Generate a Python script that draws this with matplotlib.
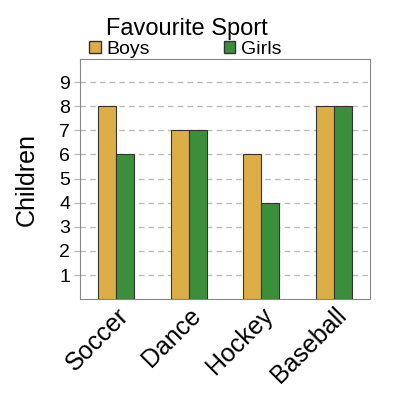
import matplotlib.pyplot as plt
import numpy as np
from matplotlib.patches import Patch

plt.rcParams['font.family'] = ['Liberation Sans', 'DejaVu Sans']

sports = ['Soccer', 'Dance', 'Hockey', 'Baseball']
boys = [8, 7, 6, 8]
girls = [6, 7, 4, 8]
yticks = [1, 2, 3, 4, 5, 6, 7, 8, 9]

BOYS_COLOR = '#dcae45'
GIRLS_COLOR = '#3b8f3b'

fig = plt.figure(figsize=(4, 4), dpi=100)
ax = fig.add_axes([0.20, 0.252, 0.725, 0.60])

x = np.arange(len(sports))
w = 0.25
ax.bar(x - w / 2, boys, w, color=BOYS_COLOR, edgecolor='#333333', linewidth=0.8, zorder=3)
ax.bar(x + w / 2, girls, w, color=GIRLS_COLOR, edgecolor='#333333', linewidth=0.8, zorder=3)

ax.set_xlim(-0.5, 3.5)
ax.set_ylim(0, 9.95)
ax.set_yticks(yticks)
ax.set_yticklabels([str(t) for t in yticks], fontsize=14)
ax.set_xticks(x)
ax.set_xticklabels(sports, fontsize=18, rotation=45, ha='right', rotation_mode='anchor')
ax.tick_params(axis='y', length=4, width=1, color='#bbbbbb', pad=3)
ax.tick_params(axis='x', length=0, pad=3)
ax.yaxis.grid(True, linestyle='--', color='#bbbbbb', linewidth=1, dashes=(4, 3))
ax.set_axisbelow(True)
for s in ax.spines.values():
    s.set_color('#888888')

ax.set_ylabel('Children', fontsize=18, labelpad=15)

fig.text(0.468, 0.927, 'Favourite Sport', fontsize=17, ha='center', va='center')
handles = [Patch(facecolor=BOYS_COLOR, edgecolor='#333333', label='Boys'),
           Patch(facecolor=GIRLS_COLOR, edgecolor='#333333', label='Girls')]
fig.legend(handles=handles, loc='center left', bbox_to_anchor=(0.198, 0.876), ncol=2,
           frameon=False, fontsize=14, handlelength=0.6, handleheight=0.6,
           handletextpad=0.3, columnspacing=3.8, borderpad=0)

fig.savefig('out.png', dpi=100)
